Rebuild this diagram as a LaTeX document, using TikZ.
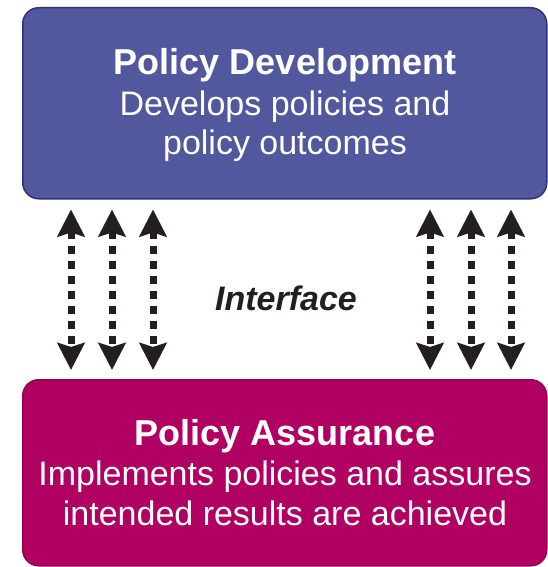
\documentclass[tikz,border=0pt]{standalone}
\usepackage{fontspec}
\setmainfont{Liberation Sans}
\usetikzlibrary{arrows.meta}
\definecolor{devblue}{RGB}{82,88,158}
\definecolor{devedge}{RGB}{46,50,118}
\definecolor{asmag}{RGB}{176,0,98}
\definecolor{asedge}{RGB}{150,0,84}
\definecolor{arrowink}{RGB}{35,31,32}
\begin{document}
\begin{tikzpicture}[x=1pt,y=-1pt,
  box/.style={line width=1.5pt, rounded corners=16pt, minimum width=524pt, inner sep=0pt, anchor=north west},
  titletext/.style={text=white, anchor=base, inner sep=0pt, font=\fontsize{36pt}{40pt}\selectfont\bfseries},
  bodytext/.style={text=white, anchor=base, inner sep=0pt, font=\fontsize{34pt}{40pt}\selectfont},
  iftext/.style={text=arrowink, anchor=base, inner sep=0pt, font=\fontsize{34pt}{40pt}\selectfont\bfseries\itshape},
  darr/.style={draw=arrowink, line width=7pt, dash pattern=on 8pt off 7pt,
    {Stealth[length=27pt,width=27pt,inset=4pt]}-{Stealth[length=27pt,width=27pt,inset=4pt]}}
]
\useasboundingbox (0,0) rectangle (548,567);
\node[box, fill=devblue, draw=devedge, minimum height=191pt] (dev) at (22,7) {};
\node[box, fill=asmag, draw=asedge, minimum height=186pt] (asr) at (22,379) {};

\node[titletext] (devtitle) at (285,75) {Policy Development};
\node[bodytext] (devline1) at (285,116) {Develops policies and};
\node[bodytext] (devline2) at (285,154) {policy outcomes};

\node[titletext] (asrtitle) at (285,445) {Policy Assurance};
\node[bodytext] (asrline1) at (285,485) {Implements policies and assures};
\node[bodytext] (asrline2) at (285,525) {intended results are achieved};

\node[iftext] (iface) at (286,310) {Interface};

\foreach \x [count=\i] in {71,112,153,430,471,511}{
  \coordinate (c\i) at (\x,0);
  \draw[darr, shorten <=10pt, shorten >=9pt] (dev.south -| c\i) -- (asr.north -| c\i);
}
\end{tikzpicture}
\end{document}
